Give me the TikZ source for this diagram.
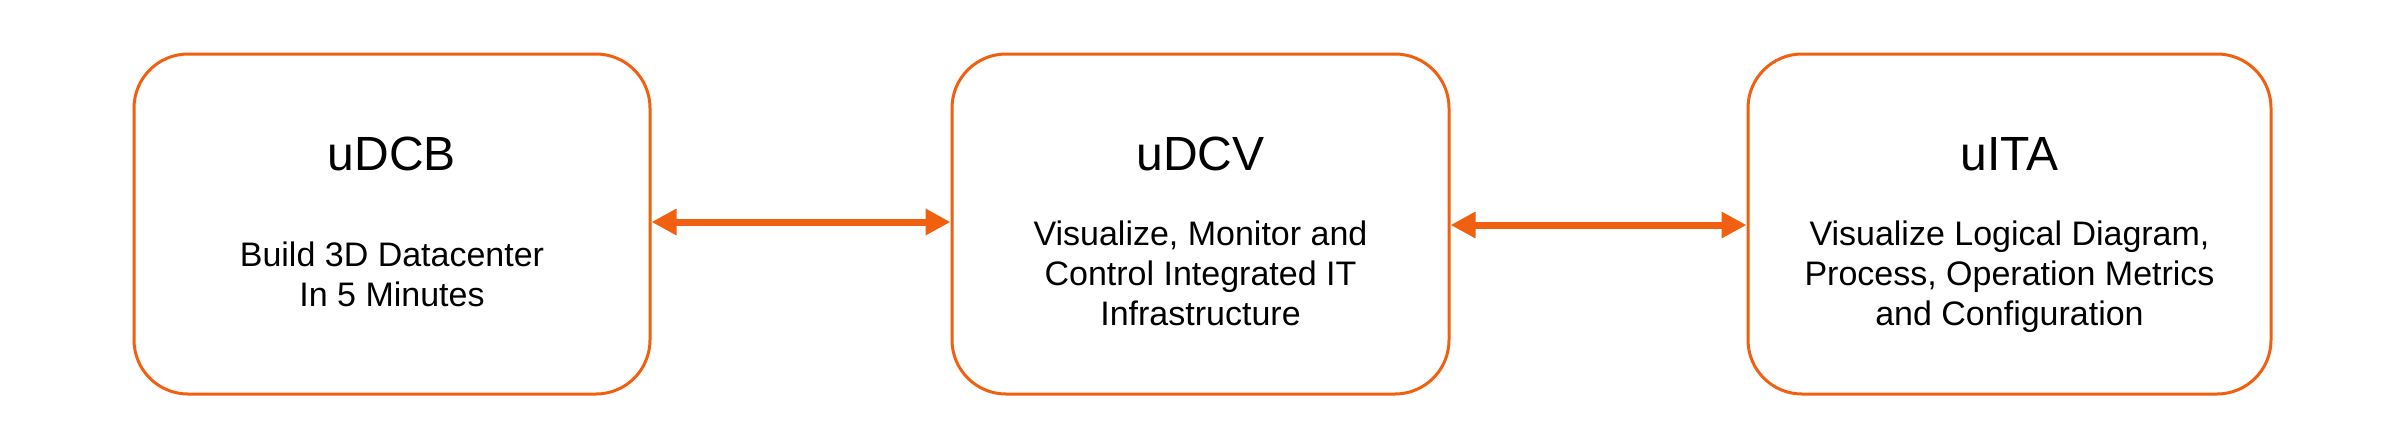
\documentclass[tikz,border=0pt]{standalone}
\usepackage{fontspec}
\setmainfont{Liberation Sans}
\usetikzlibrary{arrows.meta,positioning}
\definecolor{udorange}{RGB}{240,96,16}
\tikzset{
  module/.style  = {draw=udorange, line width=1.5pt, rounded corners=27pt,
                    minimum height=170pt, inner sep=0pt},
  heading/.style = {font=\fontsize{24}{28}\selectfont, inner sep=0pt},
  desc/.style    = {font=\fontsize{17}{20}\selectfont, align=center, inner sep=0pt},
  link/.style    = {draw=udorange, line width=3.5pt,
                    {Triangle[length=12.5pt,width=12.5pt]}-{Triangle[length=12.5pt,width=12.5pt]}}
}
\begin{document}
\begin{tikzpicture}[x=0.5pt,y=-0.5pt]

\useasboundingbox (0,0) rectangle (2404,436);

% the three products, left to right
\node[module, minimum width=258pt] (b1) at (392,224) {};
\node[module, minimum width=248.5pt] (b2) at (1200.5,224) {};
\node[module, minimum width=261.5pt] (b3) at (2009.5,224) {};

\node[heading] (h1) at ([yshift=35pt]b1.center) {uDCB};
\node[heading] (h2) at ([yshift=35pt]b2.center) {uDCV};
\node[heading] (h3) at ([yshift=35pt]b3.center) {uITA};

\node[desc] (d1) at ([yshift=-25pt]b1.center) {Build 3D Datacenter\\In 5 Minutes};
\node[desc] (d2) at ([yshift=-24.5pt]b2.center) {Visualize, Monitor and\\Control Integrated IT\\Infrastructure};
\node[desc] (d3) at ([yshift=-26.5pt]b3.center) {Visualize Logical Diagram,\\Process, Operation Metrics\\and Configuration};

\draw[link] ([yshift=1pt]b1.east) -- ([yshift=1pt]b2.west);
\draw[link] ([yshift=-0.5pt]b2.east) -- ([yshift=-0.5pt]b3.west);

\end{tikzpicture}
\end{document}
